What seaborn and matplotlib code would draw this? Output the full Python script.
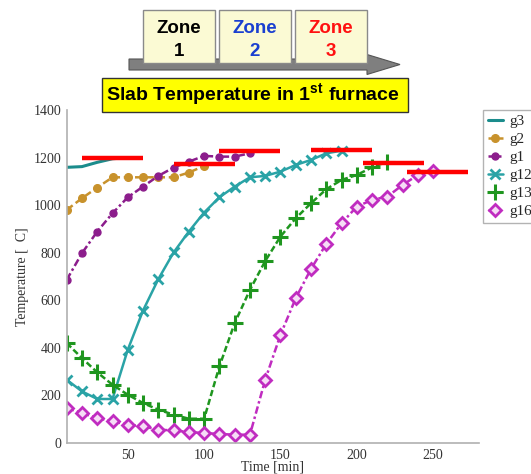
import matplotlib
matplotlib.use("Agg")
import matplotlib.pyplot as plt
from matplotlib.patches import Rectangle, FancyArrow
import seaborn as sns
import pandas as pd

# ---- data ----
t_g3 = [10, 20, 30, 40, 50]
g3 = [1159, 1162, 1180, 1195, 1200]
t_g2 = [10, 20, 30, 40, 50, 60, 70, 80, 90, 100]
g2 = [980, 1029, 1074, 1117, 1117, 1117, 1117, 1117, 1137, 1165]
t_g1 = [10, 20, 30, 40, 50, 60, 70, 80, 90, 100, 110, 120, 130]
g1 = [686, 798, 889, 966, 1033, 1078, 1123, 1158, 1183, 1207, 1204, 1204, 1218]
t_g12 = [10, 20, 30, 40, 50, 60, 70, 80, 90, 100, 110, 120, 130, 140, 150, 160, 170, 180, 190]
g12 = [266, 217, 185, 185, 392, 557, 689, 801, 889, 969, 1033, 1078, 1117, 1123, 1141, 1169, 1190, 1218, 1229]
t_g13 = [10, 20, 30, 40, 50, 60, 70, 80, 90, 100, 110, 120, 130, 140, 150, 160, 170, 180, 190, 200, 210, 220]
g13 = [420, 357, 297, 245, 203, 168, 140, 119, 102, 102, 322, 504, 644, 765, 868, 945, 1008, 1067, 1106, 1127, 1159, 1183]
t_g16 = [10, 20, 30, 40, 50, 60, 70, 80, 90, 100, 110, 120, 130, 140, 150, 160, 170, 180, 190, 200, 210, 220, 230, 240, 250]
g16 = [147, 126, 105, 91, 77, 70, 56, 53, 46, 42, 38, 35, 35, 266, 455, 609, 732, 837, 924, 994, 1022, 1036, 1085, 1127, 1144]

# zone target temperatures (red bars)
target_start = [20, 80, 110, 170, 204, 233]
target_end = [60, 120, 150, 210, 244, 273]
target_temp = [1200, 1172, 1227, 1231, 1176, 1139]

zone_labels = ["Zone\n1", "Zone\n2", "Zone\n3"]
title_text = r"Slab Temperature in 1$^{\mathbf{st}}$ furnace"

sns.set_style("white")
plt.rcParams["font.family"] = ["Liberation Serif", "DejaVu Serif"]
plt.rcParams["mathtext.fontset"] = "custom"
plt.rcParams["mathtext.rm"] = "Liberation Sans"
plt.rcParams["mathtext.bf"] = "Liberation Sans:bold"

W, H = 531, 474
fig = plt.figure(figsize=(W / 100, H / 100), dpi=100)
ax = fig.add_axes([66.7 / W, 1 - 443 / H, (479 - 66.7) / W, (443 - 110) / H])

c_g3, c_g2, c_g1 = "#1b8c8c", "#c8922c", "#8c1d8c"
c_g12, c_g13, c_g16 = "#2aa3a6", "#1f961f", "#c02cc0"
series = [
    ("g3", t_g3, g3, dict(color=c_g3, linestyle="-", marker=None, linewidth=2.2)),
    ("g2", t_g2, g2, dict(color=c_g2, linestyle=(0, (3, 1.5)), marker="o", markersize=5.5, linewidth=1.8,
                          markeredgecolor=c_g2, markeredgewidth=1)),
    ("g1", t_g1, g1, dict(color=c_g1, linestyle=(0, (3, 1.2, 1, 1.2)), marker="o", markersize=5, linewidth=1.8,
                          markeredgecolor=c_g1, markeredgewidth=1)),
    ("g12", t_g12, g12, dict(color=c_g12, linestyle="-", marker="x", markersize=7, markeredgewidth=2,
                             markeredgecolor=c_g12, linewidth=1.8)),
    ("g13", t_g13, g13, dict(color=c_g13, linestyle=(0, (2.5, 1.2)), marker="+", markersize=11, markeredgewidth=2.2,
                             markeredgecolor=c_g13, linewidth=1.8)),
    ("g16", t_g16, g16, dict(color=c_g16, linestyle=(0, (3, 1.2, 1, 1.2)), marker="D", markersize=6.5,
                             markeredgewidth=2, markeredgecolor=c_g16, markerfacecolor="#f6dcf6",
                             linewidth=1.8)),
]
for name, t, v, kw in series:
    df = pd.DataFrame({"t": t, "v": v})
    sns.lineplot(data=df, x="t", y="v", ax=ax, label=name, **kw)

for s, e, temp in zip(target_start, target_end, target_temp):
    ax.plot([s, e], [temp, temp], color="red", linewidth=3.2, solid_capstyle="butt", zorder=5)

ax.set_xlim(10, 280)
ax.set_ylim(0, 1400)
ax.set_xticks([50, 100, 150, 200, 250])
ax.set_yticks(range(0, 1401, 200))
ax.set_xlabel("Time [min]", fontsize=10, labelpad=-1, color="#333333")
ax.set_ylabel("Temperature [  C]", fontsize=10, labelpad=3, color="#333333")
ax.tick_params(axis="both", labelsize=10, colors="#b0b0b0", labelcolor="#333333",
               length=3, width=1, direction="out", pad=1)
for side in ["top", "right"]:
    ax.spines[side].set_visible(False)
for side in ["left", "bottom"]:
    ax.spines[side].set_color("#b0b0b0")
    ax.spines[side].set_linewidth(1.2)

ax.legend_.remove()
handles, labels = ax.get_legend_handles_labels()
leg = fig.legend(handles[:6], labels[:6], loc="upper left",
                 bbox_to_anchor=(483 / W, 1 - 110 / H), fontsize=11,
                 handlelength=1.0, handletextpad=0.4, borderpad=0.3,
                 labelspacing=0.28, frameon=True, fancybox=False, borderaxespad=0)
leg.get_frame().set_edgecolor("#a0a0a0")
leg.get_frame().set_linewidth(1.0)

# ---- zone header ----
fig.patches.append(FancyArrow(129 / W, 1 - 64.5 / H, (367 - 129) / W, 0,
                              width=11 / H, head_width=20 / H, head_length=33 / W,
                              length_includes_head=False, transform=fig.transFigure,
                              facecolor="#7f7f7f", edgecolor="#555555", linewidth=0.8))
zone_x = [143, 219, 295]
zone_colors = ["black", "#1a3fd0", "#ff1010"]
for zx, lab, col in zip(zone_x, zone_labels, zone_colors):
    fig.patches.append(Rectangle((zx / W, 1 - 63 / H), 72 / W, 53 / H, transform=fig.transFigure,
                                 facecolor="#fbfad4", edgecolor="#8a8a8a", linewidth=1.0, zorder=3))
    fig.text((zx + 36) / W, 1 - 40 / H, lab, ha="center", va="center", fontsize=13.5,
             fontweight="bold", color=col, family=["Liberation Sans", "DejaVu Sans"],
             linespacing=1.45, zorder=4)

fig.patches.append(Rectangle((101.7 / W, 1 - 112 / H), (408 - 101.7) / W, 34 / H, transform=fig.transFigure,
                             facecolor="#ffff00", edgecolor="#333333", linewidth=1.0, zorder=3))
fig.text(253 / W, 1 - 95 / H, title_text, ha="center", va="center", fontsize=14,
         fontweight="bold", color="black", family=["Liberation Sans", "DejaVu Sans"], zorder=4)

fig.savefig("out.png", dpi=100)
